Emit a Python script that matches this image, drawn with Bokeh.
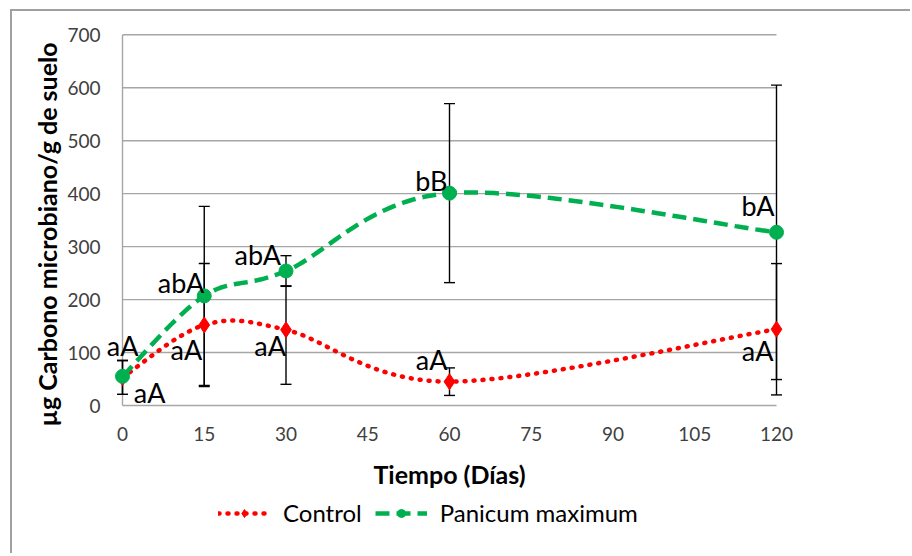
import numpy as np
from bokeh.plotting import figure
from bokeh.models import (ColumnDataSource, Whisker, TeeHead, Legend, LegendItem,
                          Label, Range1d)
from bokeh.core.properties import value
from bokeh.embed import file_html
from bokeh.resources import INLINE

# ---------------- data ----------------
days = [0, 15, 30, 60, 120]
control = [53, 152, 143, 45, 144]
control_lower = [21, 36, 40, 19, 20]
control_upper = [85, 268, 226, 71, 268]
panicum = [55, 207, 254, 401, 327]
panicum_lower = [21, 38, 225, 232, 49]
panicum_upper = [85, 376, 283, 570, 605]
control_letters = ["aA", "aA", "aA", "aA", "aA"]
panicum_letters = ["aA", "abA", "abA", "bB", "bA"]
x_ticks = [0, 15, 30, 45, 60, 75, 90, 105, 120]
y_ticks = [0, 100, 200, 300, 400, 500, 600, 700]
series_names = ["Control", "Panicum maximum"]
x_title = "Tiempo (Días)"
y_title = "µg Carbono microbiano/g de suelo"

# ---------------- style / layout ----------------
FONT = "Lato"
RED = "#FF0000"
GREEN = "#00B050"
GRID = "#A6A6A6"
TICK_COLOR = "#404040"
W, H = 900, 544
# pixel geometry (canvas pixels): where x=0/x=120 and y=0/y=700 fall
PX_X0, PX_X1 = 110.0, 764.0
PX_Y0, PX_Y1 = 394.0, 23.3
XS = (PX_X1 - PX_X0) / (x_ticks[-1] - x_ticks[0])
YS = (PX_Y0 - PX_Y1) / (y_ticks[-1] - y_ticks[0])
x_start = x_ticks[0] - PX_X0 / XS
x_end = x_start + W / XS
y_end = y_ticks[-1] + PX_Y1 / YS
y_start = y_end - H / YS

# label pixel offsets (dx, dy) from each point, right-aligned text
control_dx = [16, -2, 0, -2, -3]
control_dy = [-32, 24, 16, -22, 21]
panicum_dx = [43, 0, -5, -2, -2]
panicum_dy = [16, -13, -16, -13, -27]


def smooth(xs, ys, n=40):
    P = np.column_stack([xs, ys]).astype(float)
    m = len(P)
    out = []
    t = np.linspace(0, 1, n)[:, None]
    for i in range(m - 1):
        p0 = P[i - 1] if i > 0 else P[i]
        p3 = P[i + 2] if i + 2 < m else P[i + 1]
        p1, p2 = P[i], P[i + 1]
        c1 = p1 + (p2 - p0) / 6
        c2 = p2 - (p3 - p1) / 6
        seg = (1 - t) ** 3 * p1 + 3 * (1 - t) ** 2 * t * c1 + 3 * (1 - t) * t ** 2 * c2 + t ** 3 * p2
        out.append(seg if i == 0 else seg[1:])
    return np.vstack(out)


p = figure(width=W, height=H, output_backend="svg", toolbar_location=None,
           x_range=Range1d(x_start, x_end), y_range=Range1d(y_start, y_end),
           min_border=0)
p.styles = {"border-left": "2px solid #A0A0A0", "border-top": "2px solid #A0A0A0",
            "margin-left": "10px", "margin-top": "9px"}
p.outline_line_color = None
p.xaxis.visible = False
p.yaxis.visible = False
p.xgrid.visible = False
p.ygrid.visible = False
p.background_fill_color = "white"
p.border_fill_color = "white"

# gridlines, axis lines
n_g = len(y_ticks) - 1
gl = p.segment(x0=[x_ticks[0]] * n_g, x1=[x_ticks[-1]] * n_g,
               y0=y_ticks[1:], y1=y_ticks[1:], line_color=GRID, line_width=1.4)
gl.level = "image"
ax_l = p.segment(x0=[x_ticks[0], x_ticks[0]], x1=[x_ticks[0], x_ticks[-1]],
                 y0=[y_ticks[0], y_ticks[0]], y1=[y_ticks[-1], y_ticks[0]],
                 line_color=GRID, line_width=1.4)
ax_l.level = "image"

# tick labels
p.text(x=x_ticks, y=[y_ticks[0]] * len(x_ticks), text=[str(t) for t in x_ticks],
       y_offset=28, text_align="center", text_baseline="alphabetic",
       text_font=value(FONT), text_font_size="19px", text_color=TICK_COLOR)
p.text(x=[x_ticks[0]] * len(y_ticks), y=y_ticks, text=[str(t) for t in y_ticks],
       x_offset=-22, y_offset=0, text_align="right", text_baseline="alphabetic",
       text_font=value(FONT), text_font_size="19px", text_color=TICK_COLOR)

# axis titles
p.add_layout(Label(x=x_ticks[4], y=y_ticks[0] - 68 / YS, text=x_title, text_align="center",
                   text_baseline="alphabetic", text_font=FONT, text_font_size="25px",
                   text_font_style="bold", text_color="black"))
p.add_layout(Label(x=x_ticks[0] - 76 / XS, y=y_ticks[0] + 171 / YS, text=y_title,
                   angle=np.pi / 2, text_align="center", text_baseline="middle",
                   text_font=FONT, text_font_size="25px", text_font_style="bold",
                   text_color="black"))

# error bars
src_c = ColumnDataSource(dict(x=days, lower=control_lower, upper=control_upper))
src_p = ColumnDataSource(dict(x=days, lower=panicum_lower, upper=panicum_upper))
for src in (src_c, src_p):
    w = Whisker(base="x", lower="lower", upper="upper", source=src,
                line_color="black", line_width=1.4, level="underlay",
                upper_head=TeeHead(size=11, line_color="black", line_width=1.4),
                lower_head=TeeHead(size=11, line_color="black", line_width=1.4))
    p.add_layout(w)

# smoothed lines and markers
cs = smooth(days, control)
ps = smooth(days, panicum)
line_c = p.line(cs[:, 0], cs[:, 1], line_color=RED, line_width=4.5, line_dash="1 8", line_cap="round")
line_p = p.line(ps[:, 0], ps[:, 1], line_color=GREEN, line_width=4.5, line_dash="14 7")
mk_c = p.scatter(days, control, marker="diamond", size=16, fill_color=RED, line_color=RED)
mk_p = p.scatter(days, panicum, marker="circle", size=14, fill_color=GREEN, line_color=GREEN)

# letter labels
lab_src = ColumnDataSource(dict(
    x=days + days, y=control + panicum, text=control_letters + panicum_letters,
    dx=control_dx + panicum_dx, dy=control_dy + panicum_dy))
p.text(x="x", y="y", text="text", x_offset="dx", y_offset="dy", source=lab_src,
       text_align="right", text_baseline="alphabetic", text_font=value(FONT),
       text_font_size="27px", text_color="black")

legend = Legend(items=[LegendItem(label=series_names[0], renderers=[line_c, mk_c]),
                       LegendItem(label=series_names[1], renderers=[line_p, mk_p])],
                orientation="horizontal", location=(206, 28),
                glyph_width=52, glyph_height=20, label_standoff=13, spacing=13,
                padding=0, margin=0, border_line_color=None, background_fill_alpha=0,
                label_text_font=FONT, label_text_font_size="24px", label_text_color="black")
p.add_layout(legend)

open("out.html", "w").write(file_html(p, INLINE))
